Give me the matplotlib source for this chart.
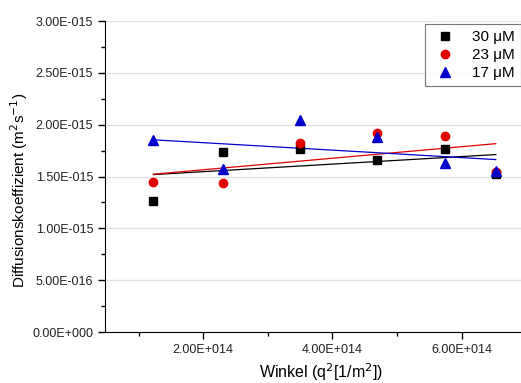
import numpy as np
import matplotlib.pyplot as plt
from matplotlib.ticker import FuncFormatter, MultipleLocator

plt.rcParams['font.family'] = ['Liberation Sans', 'DejaVu Sans']

# q^2 values (1/m^2)
q2 = [1.23e14, 2.30e14, 3.50e14, 4.69e14, 5.74e14, 6.53e14]

# diffusion coefficients (m^2/s)
d_30 = [1.26e-15, 1.74e-15, 1.77e-15, 1.66e-15, 1.77e-15, 1.52e-15]
d_23 = [1.45e-15, 1.44e-15, 1.82e-15, 1.92e-15, 1.89e-15, 1.54e-15]
d_17 = [1.85e-15, 1.57e-15, 2.05e-15, 1.88e-15, 1.63e-15, 1.55e-15]

labels = ['30 μM', '23 μM', '17 μM']


def origin_fmt(v, pos):
    # Origin-style scientific labels, e.g. 2.00E+014
    if v == 0:
        return '0.00E+000'
    exp = int(np.floor(np.log10(abs(v))))
    mant = v / 10**exp
    sign = '+' if exp >= 0 else '-'
    return f'{mant:.2f}E{sign}{abs(exp):03d}'


fig = plt.figure(figsize=(5.21, 3.83), dpi=100)
ax = fig.add_axes([0.2015, 0.133, 0.7985, 0.812])

series = [
    (d_30, 's', 'black', 5.3),
    (d_23, 'o', '#e00000', 6),
    (d_17, '^', '#0000cc', 6.5),
]

x = np.array(q2)
for (vals, marker, color, ms), lab in zip(series, labels):
    y = np.array(vals)
    ax.plot(x, y, linestyle='none', marker=marker, color=color, ms=ms, label=lab, zorder=3)
    # linear fit
    k, b = np.polyfit(x, y, 1)
    ax.plot([x[0], x[-1]], [k * x[0] + b, k * x[-1] + b], color=color, lw=0.9, zorder=2)

ax.set_xlim(0.48e14, 6.92e14)
ax.set_ylim(0, 3.0e-15)

ax.xaxis.set_major_locator(MultipleLocator(2e14))
ax.xaxis.set_minor_locator(MultipleLocator(1e14))
ax.yaxis.set_major_locator(MultipleLocator(0.5e-15))
ax.yaxis.set_minor_locator(MultipleLocator(0.25e-15))
ax.xaxis.set_major_formatter(FuncFormatter(origin_fmt))
ax.yaxis.set_major_formatter(FuncFormatter(origin_fmt))

ax.tick_params(which='major', direction='out', length=5, width=1, labelsize=9, colors='black')
ax.tick_params(which='minor', direction='out', length=3, width=1)
ax.tick_params(axis='both', which='major', labelcolor='#222222')

ax.spines['top'].set_visible(False)
ax.spines['right'].set_visible(False)

ax.yaxis.grid(True, color='#e2e2e2', lw=1)
ax.get_ygridlines()[-1].set_visible(False)
ax.get_ygridlines()[0].set_visible(False)
ax.set_axisbelow(True)

ax.set_xlabel('Winkel (q$^2$[1/m$^2$])', fontsize=11.5)
ax.set_ylabel('Diffusionskoeffizient (m$^2$s$^{-1}$)', fontsize=11)
ax.xaxis.set_label_coords(0.519, -0.094)
ax.yaxis.set_label_coords(-0.18, 0.457)

leg = ax.legend(loc='upper right', bbox_to_anchor=(1.0, 0.99), borderaxespad=0,
                fontsize=11, frameon=True, fancybox=False, edgecolor='#555555',
                handletextpad=0.9, borderpad=0.4, labelspacing=0.25, handlelength=1.8)
leg.get_frame().set_linewidth(0.8)

fig.savefig('out.png', dpi=100)
